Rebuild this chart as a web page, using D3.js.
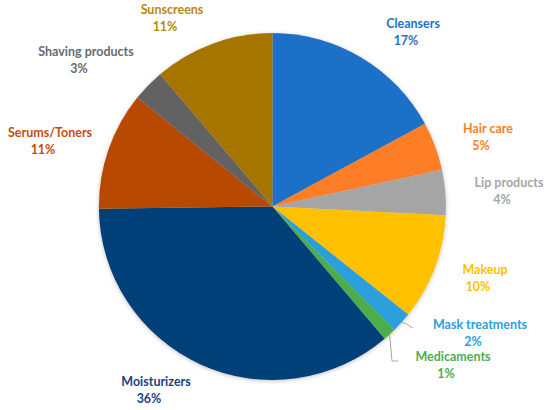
<!DOCTYPE html>
<html>
<head>
<meta charset="utf-8">
<script src="https://cdn.jsdelivr.net/npm/d3@7"></script>
<style>
  html, body { margin: 0; padding: 0; background: #fff; }
  svg { display: block; }
  text { font-family: Lato, "Open Sans", sans-serif; font-weight: bold; }
</style>
</head>
<body>
<svg id="chart" width="550" height="410"></svg>
<script>
// ---- data ----
const categories = ["Cleansers", "Hair care", "Lip products", "Makeup", "Mask treatments",
  "Medicaments", "Moisturizers", "Serums/Toners", "Shaving products", "Sunscreens"];
const values = [17.1, 4.5, 4.2, 9.9, 1.9, 1.2, 36.0, 11.0, 3.0, 11.2];
const percentLabels = ["17%", "5%", "4%", "10%", "2%", "1%", "36%", "11%", "3%", "11%"];

// ---- styles ----
const sliceColors = ["#1F70C8", "#FD7E27", "#A5A5A5", "#FFC000", "#2A9FDC",
  "#4CAE4C", "#033F78", "#B84A00", "#626262", "#A67500"];
const labelColors = ["#2A6FCB", "#FD7E27", "#A5A5A5", "#FFC000", "#2A9FDC",
  "#4CAE4C", "#1F3F80", "#C0500A", "#6A6A70", "#B88A10"];
// label layout (name line centre) in px
const labelLayout = [[413, 24], [488, 129], [509, 183], [485, 270], [480, 324.5],
  [453, 357], [156, 382], [50, 133], [86, 52], [172, 9.5]];

const svg = d3.select("#chart");
const cx = 272.4, cy = 206.5, r = 173.5;

const defs = svg.append("defs");
const f = defs.append("filter").attr("id", "sh").attr("x", "-10%").attr("y", "-10%")
  .attr("width", "120%").attr("height", "120%");
f.append("feDropShadow").attr("dx", 0).attr("dy", 1).attr("stdDeviation", 2)
  .attr("flood-color", "#000").attr("flood-opacity", 0.25);

const pie = d3.pie().value(d => d).sort(null);
const arcs = pie(values);
const arc = d3.arc().innerRadius(0).outerRadius(r);

const g = svg.append("g").attr("transform", `translate(${cx},${cy})`);
g.append("g").attr("filter", "url(#sh)")
  .selectAll("path").data(arcs).join("path")
  .attr("d", arc)
  .attr("fill", (d, i) => sliceColors[i]);

// leader lines for small slices (Mask treatments, Medicaments)
const edge = (d, k) => {
  const a = (d.startAngle + d.endAngle) / 2;
  return [cx + Math.sin(a) * r * k, cy - Math.cos(a) * r * k];
};
const p4 = edge(arcs[4], 1.0);
const p5 = edge(arcs[5], 1.0);
const leaders = [
  [p4, [p4[0] + 4, p4[1] + 1], [413, 328]],
  [p5, [392, 361], [398, 361]]
];
svg.append("g").selectAll("polyline").data(leaders).join("polyline")
  .attr("points", d => d.map(p => p.join(",")).join(" "))
  .attr("fill", "none").attr("stroke", "#A6A6A6").attr("stroke-width", 1);

const lg = svg.append("g");
categories.forEach((c, i) => {
  const [x, y] = labelLayout[i];
  lg.append("text").attr("x", x).attr("y", y).attr("dy", "0.35em")
    .attr("text-anchor", "middle").attr("font-size", 12.5)
    .attr("fill", labelColors[i]).text(c);
  lg.append("text").attr("x", x - 7).attr("y", y + 17).attr("dy", "0.35em")
    .attr("text-anchor", "middle").attr("font-size", 12.5)
    .attr("fill", labelColors[i]).text(percentLabels[i]);
});
</script>
</body>
</html>
